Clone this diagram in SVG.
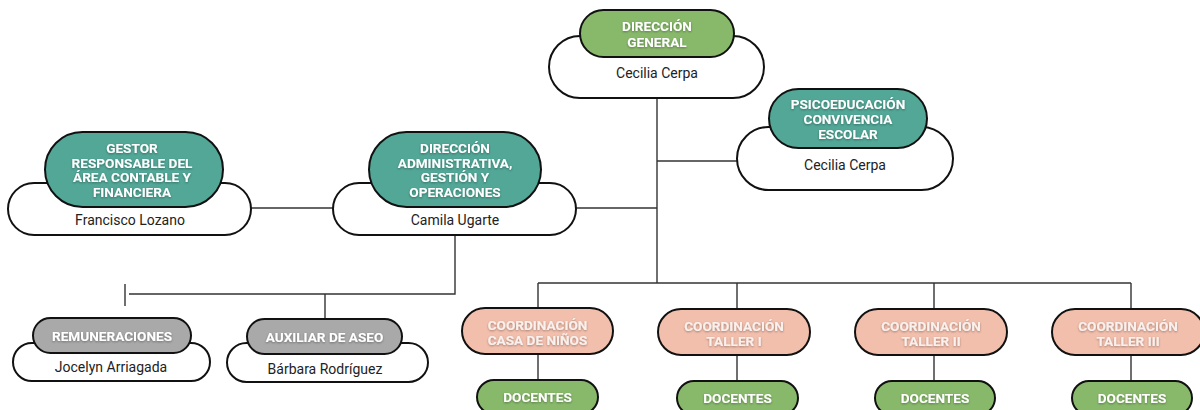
<svg xmlns="http://www.w3.org/2000/svg" width="1200" height="410" viewBox="0 0 1200 410">
<defs>
<filter id="ts" x="-10%" y="-30%" width="120%" height="160%">
<feDropShadow dx="0" dy="1" stdDeviation="0.8" flood-color="#000" flood-opacity="0.35"/>
</filter>
<style>
.box{fill:#fff;stroke:#111;stroke-width:2}
.pill{stroke:#111;stroke-width:2}
.green{fill:#88b96b}
.teal{fill:#52a797}
.gray{fill:#a9a9a9}
.salmon{fill:#f3bfad}
.pt{font-family:Roboto,"Liberation Sans",Arial,sans-serif;font-weight:bold;font-size:13.6px;fill:#fff;text-anchor:middle;filter:url(#ts)}
.ct{font-family:Roboto,"Liberation Sans",Arial,sans-serif;font-weight:bold;font-size:13.6px;fill:#f8f1ee;text-anchor:middle;filter:url(#ts)}
.nt{font-family:Roboto,"Liberation Sans",Arial,sans-serif;font-size:14px;fill:#222;text-anchor:middle}
.ln{stroke:#333;stroke-width:1.4;fill:none}
</style>
</defs>
<rect width="1200" height="410" fill="#fff"/>
<g id="connectors">
<path class="ln" d="M657 98 V283"/>
<path class="ln" d="M657 161 H737"/>
<path class="ln" d="M576 208 H657"/>
<path class="ln" d="M251 208 H333"/>
<path class="ln" d="M538 283 H1131"/>
<path class="ln" d="M538 283 V308 M737 283 V309 M934 283 V309 M1131 283 V309"/>
<path class="ln" d="M538 354 V380 M737 355 V381 M934 355 V381 M1131 355 V381"/>
<path class="ln" d="M455 235 V294 H129"/>
<path class="ln" d="M125 284 V306"/>
<path class="ln" d="M325 294 V319"/>
</g>
<g id="direccion-general">
<rect class="box" x="549" y="36" width="215" height="62" rx="31"/>
<rect class="pill green" x="580" y="10" width="154" height="47" rx="23.5"/>
<text class="pt" x="657" y="31">DIRECCIÓN</text>
<text class="pt" x="657" y="47">GENERAL</text>
<text class="nt" x="657" y="78">Cecilia Cerpa</text>
</g>
<g id="psicoeducacion">
<rect class="box" x="737" y="127" width="216" height="63" rx="31.5"/>
<rect class="pill teal" x="769" y="89" width="158" height="59" rx="29.5"/>
<text class="pt" x="848" y="109">PSICOEDUCACIÓN</text>
<text class="pt" x="848" y="124">CONVIVENCIA</text>
<text class="pt" x="848" y="139">ESCOLAR</text>
<text class="nt" x="845" y="170">Cecilia Cerpa</text>
</g>
<g id="gestor">
<rect class="box" x="8" y="183" width="243" height="52" rx="26"/>
<rect class="pill teal" x="45" y="132" width="178" height="75" rx="37.5"/>
<text class="pt" x="132" y="153">GESTOR</text>
<text class="pt" x="132" y="167.5">RESPONSABLE DEL</text>
<text class="pt" x="132" y="182">ÁREA CONTABLE Y</text>
<text class="pt" x="132" y="196.5">FINANCIERA</text>
<text class="nt" x="130" y="225">Francisco Lozano</text>
</g>
<g id="direccion-administrativa">
<rect class="box" x="333" y="183" width="243" height="52" rx="26"/>
<rect class="pill teal" x="369" y="132" width="172" height="75" rx="37.5"/>
<text class="pt" x="455" y="153">DIRECCIÓN</text>
<text class="pt" x="455" y="167.5">ADMINISTRATIVA,</text>
<text class="pt" x="455" y="182">GESTIÓN Y</text>
<text class="pt" x="455" y="196.5">OPERACIONES</text>
<text class="nt" x="455" y="225">Camila Ugarte</text>
</g>
<g id="remuneraciones">
<rect class="box" x="13" y="343" width="197" height="38" rx="19"/>
<rect class="pill gray" x="33" y="318" width="158" height="35" rx="17.5"/>
<text class="pt" x="112" y="340.5">REMUNERACIONES</text>
<text class="nt" x="111" y="372">Jocelyn Arriagada</text>
</g>
<g id="auxiliar-aseo">
<rect class="box" x="227" y="343" width="201" height="39" rx="19.5"/>
<rect class="pill gray" x="247" y="319" width="155" height="35" rx="17.5"/>
<text class="pt" x="324.5" y="341.5">AUXILIAR DE ASEO</text>
<text class="nt" x="325" y="374">Bárbara Rodríguez</text>
</g>
<g id="coord-casa">
<rect class="pill salmon" x="462" y="308" width="151" height="46" rx="23"/>
<text class="ct" x="537.5" y="329.5">COORDINACIÓN</text>
<text class="ct" x="537.5" y="344.5">CASA DE NIÑOS</text>
</g>
<g id="coord-taller1">
<rect class="pill salmon" x="658" y="309" width="152" height="46" rx="23"/>
<text class="ct" x="734" y="330.5">COORDINACIÓN</text>
<text class="ct" x="734" y="345.5">TALLER I</text>
</g>
<g id="coord-taller2">
<rect class="pill salmon" x="855" y="309" width="152" height="46" rx="23"/>
<text class="ct" x="931" y="330.5">COORDINACIÓN</text>
<text class="ct" x="931" y="345.5">TALLER II</text>
</g>
<g id="coord-taller3">
<rect class="pill salmon" x="1052" y="309" width="152" height="46" rx="23"/>
<text class="ct" x="1128" y="330.5">COORDINACIÓN</text>
<text class="ct" x="1128" y="345.5">TALLER III</text>
</g>
<g id="docentes-casa">
<rect class="pill green" x="477" y="380" width="121" height="34" rx="17"/>
<text class="pt" x="537.5" y="401.5">DOCENTES</text>
</g>
<g id="docentes-taller1">
<rect class="pill green" x="677" y="381" width="121" height="34" rx="17"/>
<text class="pt" x="737.5" y="402.5">DOCENTES</text>
</g>
<g id="docentes-taller2">
<rect class="pill green" x="875" y="381" width="120" height="34" rx="17"/>
<text class="pt" x="935" y="402.5">DOCENTES</text>
</g>
<g id="docentes-taller3">
<rect class="pill green" x="1072" y="381" width="120" height="34" rx="17"/>
<text class="pt" x="1132" y="402.5">DOCENTES</text>
</g>
</svg>
